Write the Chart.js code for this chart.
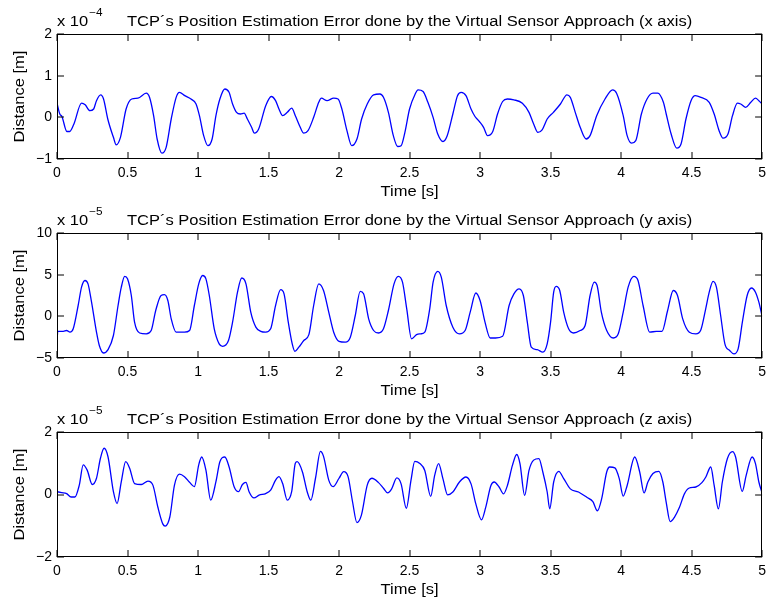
<!DOCTYPE html>
<html>
<head>
<meta charset="utf-8">
<script src="https://cdn.jsdelivr.net/npm/chart.js@4.4.0/dist/chart.umd.min.js"></script>
<style>
    body { margin: 0; background: #ffffff; }
    #page { position: relative; width: 772px; height: 601px; background: #ffffff; }
    canvas { position: absolute; left: 0; }
</style>
</head>
<body>
<div id="page">
    <canvas id="chartX" width="772" height="200" style="top:0px"></canvas>
    <canvas id="chartY" width="772" height="200" style="top:199px"></canvas>
    <canvas id="chartZ" width="772" height="200" style="top:398px"></canvas>
</div>
<script>
// time ticks shared by all three plots
const timeTicks = [0, 0.5, 1, 1.5, 2, 2.5, 3, 3.5, 4, 4.5, 5];

// x axis error, values in units of 1e-4 m
const timeX = [
    0, 0.02, 0.035, 0.07, 0.09, 0.12, 0.174, 0.2, 0.233, 0.26, 0.28, 0.31, 0.33, 0.36, 0.4, 0.42, 0.45, 0.49,
    0.53, 0.574, 0.633, 0.656, 0.685, 0.71, 0.744, 0.774, 0.81, 0.845, 0.868, 0.906, 0.95, 0.986, 1.01, 1.04,
    1.07, 1.1, 1.127, 1.155, 1.19, 1.22, 1.245, 1.273, 1.3, 1.327, 1.35, 1.38, 1.4, 1.43, 1.48, 1.52, 1.55,
    1.574, 1.6, 1.633, 1.664, 1.69, 1.72, 1.75, 1.78, 1.82, 1.856, 1.875, 1.915, 1.962, 1.993, 2.02, 2.056,
    2.09, 2.127, 2.16, 2.2, 2.245, 2.29, 2.315, 2.35, 2.385, 2.416, 2.44, 2.467, 2.5, 2.54, 2.56, 2.596, 2.63,
    2.667, 2.7, 2.737, 2.767, 2.807, 2.84, 2.866, 2.9, 2.936, 2.964, 2.995, 3.025, 3.053, 3.09, 3.124, 3.16,
    3.194, 3.24, 3.3, 3.347, 3.38, 3.41, 3.44, 3.476, 3.52, 3.57, 3.616, 3.64, 3.675, 3.71, 3.752, 3.78,
    3.827, 3.886, 3.94, 3.968, 4.015, 4.043, 4.074, 4.104, 4.144, 4.184, 4.226, 4.26, 4.3, 4.32, 4.355,
    4.395, 4.425, 4.46, 4.496, 4.526, 4.566, 4.625, 4.66, 4.695, 4.723, 4.758, 4.79, 4.825, 4.848, 4.884,
    4.92, 4.953, 4.977, 5
];
const distX = [
    0.34, 0.08, 0.02, -0.34, -0.34, -0.16, 0.34, 0.3, 0.16, 0.2, 0.4, 0.54, 0.44, -0.04, -0.48, -0.66, -0.48, 0.2,
    0.44, 0.46, 0.58, 0.48, 0.04, -0.52, -0.86, -0.72, -0.04, 0.48, 0.6, 0.52, 0.44, 0.32, 0.04, -0.44,
    -0.68, -0.52, 0.04, 0.44, 0.68, 0.6, 0.32, 0.12, 0.08, 0.1, -0.04, -0.24, -0.38, -0.28, 0.28, 0.5, 0.4,
    0.2, 0.04, 0.12, 0.22, 0.04, -0.2, -0.38, -0.32, 0, 0.36, 0.46, 0.4, 0.46, 0.44, 0.2, -0.32,
    -0.68, -0.52, -0.04, 0.32, 0.54, 0.56, 0.48, 0.12, -0.44, -0.7, -0.68, -0.36, 0.2, 0.56, 0.66, 0.62, 0.36,
    0, -0.4, -0.58, -0.44, 0.08, 0.52, 0.6, 0.52, 0.2, 0.02, -0.1, -0.24, -0.44, -0.34, 0.08, 0.38,
    0.44, 0.42, 0.34, 0.12, -0.16, -0.36, -0.3, -0.04, 0.12, 0.32, 0.54, 0.48, 0.12, -0.24, -0.52, -0.44,
    0.04, 0.44, 0.66, 0.58, 0.04, -0.44, -0.62, -0.56, 0.08, 0.44, 0.58, 0.58, 0.36, 0.08, -0.4,
    -0.74, -0.64, -0.04, 0.4, 0.52, 0.48, 0.36, 0.08, -0.32, -0.5, -0.4, 0.04, 0.34, 0.32, 0.24,
    0.36, 0.46, 0.4, 0.32
];

// y axis error, values in units of 1e-5 m
const timeY = [
    0, 0.001, 0.005, 0.045, 0.068, 0.092, 0.115, 0.15, 0.174, 0.198, 0.22, 0.245, 0.28, 0.3, 0.33, 0.362, 0.4,
    0.433, 0.456, 0.48, 0.5, 0.527, 0.55, 0.586, 0.633, 0.668, 0.7, 0.738, 0.762, 0.786, 0.81, 0.845, 0.904,
    0.94, 0.974, 1.005, 1.033, 1.056, 1.08, 1.115, 1.15, 1.174, 1.216, 1.245, 1.28, 1.31, 1.34, 1.374, 1.41,
    1.445, 1.48, 1.515, 1.55, 1.586, 1.61, 1.64, 1.668, 1.687, 1.715, 1.75, 1.786, 1.82, 1.856, 1.89, 1.927,
    1.962, 2, 2.045, 2.08, 2.115, 2.15, 2.174, 2.21, 2.245, 2.28, 2.315, 2.35, 2.39, 2.42, 2.45, 2.48, 2.514,
    2.55, 2.58, 2.608, 2.643, 2.667, 2.7, 2.725, 2.76, 2.807, 2.854, 2.894, 2.93, 2.97, 3, 3.035, 3.072,
    3.11, 3.16, 3.206, 3.24, 3.277, 3.307, 3.335, 3.363, 3.405, 3.445, 3.476, 3.5, 3.522, 3.54, 3.565,
    3.593, 3.628, 3.663, 3.71, 3.745, 3.78, 3.81, 3.83, 3.86, 3.898, 3.945, 3.98, 4.015, 4.05, 4.09, 4.12,
    4.156, 4.203, 4.25, 4.29, 4.33, 4.37, 4.4, 4.437, 4.484, 4.53, 4.566, 4.6, 4.625, 4.652, 4.676, 4.706,
    4.736, 4.77, 4.8, 4.83, 4.86, 4.894, 4.925, 4.953, 4.977, 5
];
const distY = [
    4.9, -2.7, -1.8, -1.8, -1.7, -1.9, -1.5, 1.3, 3.5, 4.3, 3.9, 1.7, -1.9, -3.5, -4.4, -4.0, -2.3,
    1.3, 3.5, 4.8, 4.5, 2.5, -0.7, -2.0, -2.1, -1.7, 0.7, 2.5, 2.6, 1.9, -0.3, -1.9, -1.9,
    -1.7, 1.3, 3.9, 4.9, 4.5, 2.5, -1.5, -3.3, -3.6, -2.9, -0.7, 2.9, 4.6, 3.9, 0.5, -1.3,
    -1.8, -1.9, -1.5, 1.3, 3.2, 2.7, -0.7, -3.3, -4.2, -3.7, -2.9, -2.2, 1.3, 3.9, 3.1, 0.5,
    -1.9, -3.0, -3.1, -2.5, 0.1, 3.0, 2.7, -0.3, -1.7, -2.0, -1.5, 0.7, 3.9, 4.8, 4.1, 0.9, -2.7,
    -2.2, -2.1, -1.9, 0.9, 4.1, 5.4, 4.7, 1.3, -1.3, -2.1, -1.7, 0.5, 2.8, 1.9, -0.7, -2.6,
    -2.6, -2.4, 1.3, 2.7, 3.3, 2.5, -0.7, -3.7, -4.0, -4.3, -3.3, -0.7, 2.9, 3.6, 3.1,
    0.5, -1.5, -2.0, -1.7, -1.1, 2.5, 4.1, 3.7, 0.5, -1.7, -2.6, -2.1, 0.5, 3.5, 4.8, 4.3,
    1.3, -1.9, -1.8, -1.8, 0.7, 3.1, 2.5, -0.3, -1.9, -2.1, -1.6, 0.9, 2.9, 4.2, 3.5, 0.1,
    -3.3, -4.1, -4.5, -3.9, -0.7, 2.5, 3.4, 2.9, 1.7, 0
];

// z axis error, values in units of 1e-5 m
const timeZ = [
    0, 0.033, 0.068, 0.1, 0.127, 0.158, 0.186, 0.214, 0.25, 0.28, 0.308, 0.334, 0.362, 0.4, 0.426, 0.456,
    0.487, 0.515, 0.55, 0.598, 0.645, 0.68, 0.715, 0.75, 0.767, 0.8, 0.833, 0.868, 0.904, 0.94, 0.974, 1.005,
    1.026, 1.056, 1.09, 1.127, 1.155, 1.19, 1.22, 1.256, 1.287, 1.315, 1.34, 1.362, 1.397, 1.433, 1.48,
    1.515, 1.55, 1.574, 1.6, 1.633, 1.664, 1.69, 1.703, 1.74, 1.774, 1.8, 1.833, 1.868, 1.89, 1.927, 1.958,
    2, 2.033, 2.064, 2.096, 2.127, 2.158, 2.2, 2.233, 2.28, 2.315, 2.345, 2.373, 2.41, 2.44, 2.477, 2.51,
    2.537, 2.573, 2.608, 2.65, 2.678, 2.706, 2.737, 2.77, 2.807, 2.854, 2.9, 2.936, 2.97, 3.01, 3.04, 3.077,
    3.1, 3.135, 3.166, 3.194, 3.23, 3.26, 3.283, 3.316, 3.347, 3.38, 3.417, 3.445, 3.476, 3.494, 3.522,
    3.558, 3.593, 3.64, 3.698, 3.757, 3.8, 3.832, 3.862, 3.898, 3.92, 3.956, 3.987, 4.015, 4.043, 4.097,
    4.132, 4.163, 4.19, 4.226, 4.268, 4.296, 4.32, 4.348, 4.378, 4.414, 4.449, 4.48, 4.53, 4.573, 4.601,
    4.636, 4.66, 4.69, 4.718, 4.754, 4.79, 4.812, 4.859, 4.887, 4.929, 4.953, 4.977, 5
];
const distZ = [
    0.09, 0.06, 0.03, -0.08, -0.08, 0.3, 0.95, 0.78, 0.32, 0.52, 1.16, 1.48, 1.2, 0.09, -0.29, 0.41,
    1.05, 0.84, 0.35, 0.32, 0.43, 0.3, -0.4, -0.94, -1.01, -0.72, 0.3, 0.65, 0.57, 0.39, 0.25, 0.95,
    1.2, 0.78, -0.18, 0.41, 1.05, 1.2, 0.89, 0.25, 0.09, 0.32, 0.39, 0.09, -0.11, -0.02, 0.03,
    0.14, 0.46, 0.57, 0.35, -0.18, 0.09, 1.0, 1.05, 0.73, 0.09, -0.18, 0.52, 1.38, 1.22, 0.46, 0.25,
    0.52, 0.73, 0.57, -0.24, -0.9, -0.67, 0.3, 0.52, 0.38, 0.2, 0.05, 0.18, 0.53, 0.34, -0.44, 0.45,
    1.06, 0.99, 0.77, -0.06, 0.61, 0.99, 0.5, -0.01, 0.08, 0.4, 0.56, 0.34, -0.3, -0.81, -0.41, 0.29,
    0.4, 0.24, 0.02, 0.29, 0.94, 1.28, 0.99, -0.03, 0.77, 1.1, 1.15, 0.72, 0.08, -0.46, 0.4,
    0.74, 0.51, 0.18, 0.08, -0.09, -0.23, -0.52, -0.14, 0.72, 0.88, 0.85, 0.51, -0.05, 0.29, 1.2,
    0.72, 0.05, 0.4, 0.67, 0.74, 0.4, -0.25, -0.87, -0.73, -0.41, 0.02, 0.2, 0.24, 0.38, 0.56,
    0.88, 0.29, -0.46, 0.4, 1.15, 1.37, 1.2, 0.1, 0.61, 1.2, 0.99, 0.4, 0.05
];

const yTicksX = [-1, 0, 1, 2];
const yTicksY = [-5, 0, 5, 10];
const yTicksZ = [-2, 0, 2];

const titleX = "TCP\u00b4s Position Estimation Error done by the Virtual Sensor Approach (x axis)";
const titleY = "TCP\u00b4s Position Estimation Error done by the Virtual Sensor Approach (y axis)";
const titleZ = "TCP\u00b4s Position Estimation Error done by the Virtual Sensor Approach (z axis)";

const FONT = "'Liberation Sans', Arial, Helvetica, sans-serif";
// the exported figure has its text a little wider than tall
const STRETCH = 1.18;

Chart.defaults.font.family = FONT;
Chart.defaults.font.size = 14;
Chart.defaults.color = "#000000";

function minusSign(value) {
    return value < 0
        ? "\u2212" + Math.abs(value)
        : String(value);
}

function wideText(ctx, text, x, y, align, rotated) {
    ctx.save();
    ctx.translate(x, y);
    if (rotated) {
        ctx.rotate(-Math.PI / 2);
    }
    ctx.scale(STRETCH, 1);
    ctx.textAlign = align;
    ctx.fillText(text, 0, 0);
    ctx.restore();
}

// draws the matlab style box, inward ticks, titles and exponent
const matlabFrame = {
    id: "matlabFrame",
    afterDatasetsDraw: function(chart, args, opts) {
        const ctx = chart.ctx;
        const area = chart.chartArea;
        const xs = chart.scales.x;
        const ys = chart.scales.y;
        const tick = 7;
        const midX = (area.left + area.right) / 2;
        const midY = (area.top + area.bottom) / 2;

        ctx.save();

        ctx.strokeStyle = "#000000";
        ctx.lineWidth = 1;

        ctx.beginPath();
        xs.ticks.forEach(function(t) {
            const px = Math.round(xs.getPixelForValue(t.value));
            ctx.moveTo(px, area.bottom);
            ctx.lineTo(px, area.bottom - tick);
            ctx.moveTo(px, area.top);
            ctx.lineTo(px, area.top + tick);
        });
        ys.ticks.forEach(function(t) {
            const py = Math.round(ys.getPixelForValue(t.value));
            ctx.moveTo(area.left, py);
            ctx.lineTo(area.left + tick, py);
            ctx.moveTo(area.right, py);
            ctx.lineTo(area.right - tick, py);
        });
        ctx.stroke();

        ctx.strokeRect(
            Math.round(area.left) + 0.5,
            Math.round(area.top) + 0.5,
            Math.round(area.right - area.left) - 1,
            Math.round(area.bottom - area.top) - 1
        );

        ctx.fillStyle = "#000000";
        ctx.font = "14px " + FONT;

        ctx.textBaseline = "alphabetic";
        wideText(ctx, opts.title, midX, area.top - 8, "center", false);
        wideText(ctx, "x 10", area.left, area.top - 8, "left", false);

        const w = ctx.measureText("x 10").width * STRETCH;
        ctx.font = "10px " + FONT;
        wideText(ctx, opts.exponent, area.left + w + 1, area.top - 18, "left", false);

        ctx.font = "14px " + FONT;
        ctx.textBaseline = "middle";
        wideText(ctx, "Time [s]", midX, area.bottom + 33, "center", false);
        wideText(ctx, "Distance [m]", 20, midY, "center", true);

        ctx.restore();
    }
};

function makeChart(canvasId, times, values, yTicks, title, exponent) {

    const points = times.map(function(t, i) {
        return { x: t, y: values[i] };
    });

    return new Chart(
        document.getElementById(canvasId),
        {
            type: "line",
            data: {
                datasets: [
                    {
                        data: points,
                        borderColor: "#0000ff",
                        borderWidth: 1.3,
                        pointRadius: 0,
                        fill: false,
                        cubicInterpolationMode: "monotone"
                    }
                ]
            },
            options: {
                responsive: false,
                animation: false,
                devicePixelRatio: 1,
                layout: {
                    padding: { top: 34, right: 6, left: 0, bottom: 0 }
                },
                plugins: {
                    legend: { display: false },
                    tooltip: { enabled: false },
                    matlabFrame: { title: title, exponent: exponent }
                },
                scales: {
                    x: {
                        type: "linear",
                        min: 0,
                        max: 5,
                        afterBuildTicks: function(scale) {
                            scale.ticks = timeTicks.map(function(v) {
                                return { value: v };
                            });
                        },
                        afterFit: function(scale) {
                            scale.height = 41;
                        },
                        grid: { display: false, drawTicks: false },
                        border: { display: false },
                        ticks: {
                            padding: 6,
                            maxRotation: 0,
                            autoSkip: false,
                            callback: function(v) {
                                return minusSign(v);
                            }
                        }
                    },
                    y: {
                        type: "linear",
                        min: yTicks[0],
                        max: yTicks[yTicks.length - 1],
                        afterBuildTicks: function(scale) {
                            scale.ticks = yTicks.map(function(v) {
                                return { value: v };
                            });
                        },
                        afterFit: function(scale) {
                            scale.width = 57;
                        },
                        grid: { display: false, drawTicks: false },
                        border: { display: false },
                        ticks: {
                            padding: 5,
                            autoSkip: false,
                            callback: function(v) {
                                return minusSign(v);
                            }
                        }
                    }
                }
            },
            plugins: [matlabFrame]
        }
    );
}

makeChart("chartX", timeX, distX, yTicksX, titleX, "\u22124");
makeChart("chartY", timeY, distY, yTicksY, titleY, "\u22125");
makeChart("chartZ", timeZ, distZ, yTicksZ, titleZ, "\u22125");
</script>
</body>
</html>
